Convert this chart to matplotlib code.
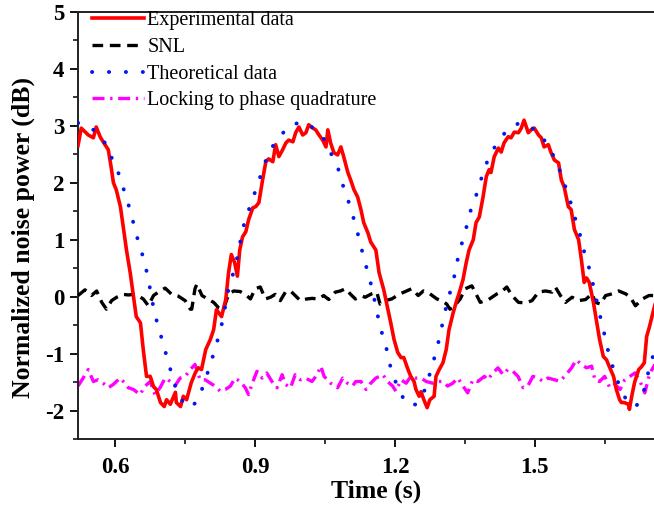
import matplotlib
matplotlib.use("Agg")
import matplotlib.pyplot as plt
from matplotlib.ticker import MultipleLocator

plt.rcParams['font.family'] = ['Liberation Serif', 'DejaVu Serif']

# Experimental data (red)
exp_t = [0.520, 0.527, 0.542, 0.553, 0.559, 0.568, 0.574, 0.585, 0.591, 0.596,
         0.602, 0.611, 0.617, 0.624, 0.632, 0.639, 0.645, 0.654, 0.660, 0.667,
         0.675, 0.682, 0.688, 0.697, 0.705, 0.710, 0.718, 0.729, 0.731, 0.740,
         0.746, 0.753, 0.763, 0.772, 0.778, 0.785, 0.794, 0.804, 0.811, 0.817,
         0.828, 0.837, 0.843, 0.849, 0.856, 0.862, 0.867, 0.873, 0.880, 0.886,
         0.895, 0.901, 0.908, 0.916, 0.923, 0.929, 0.938, 0.944, 0.951, 0.959,
         0.966, 0.972, 0.981, 0.987, 0.994, 1.002, 1.009, 1.015, 1.024, 1.030,
         1.037, 1.045, 1.052, 1.056, 1.062, 1.069, 1.077, 1.084, 1.090, 1.099,
         1.105, 1.112, 1.120, 1.127, 1.133, 1.142, 1.148, 1.159, 1.166, 1.176,
         1.185, 1.191, 1.198, 1.206, 1.213, 1.219, 1.228, 1.234, 1.241, 1.245,
         1.252, 1.256, 1.262, 1.269, 1.275, 1.284, 1.288, 1.295, 1.303, 1.310,
         1.316, 1.325, 1.331, 1.338, 1.346, 1.353, 1.359, 1.368, 1.374, 1.381,
         1.389, 1.396, 1.402, 1.406, 1.413, 1.422, 1.428, 1.434, 1.443, 1.449,
         1.456, 1.465, 1.471, 1.477, 1.486, 1.492, 1.499, 1.508, 1.514, 1.520,
         1.529, 1.535, 1.542, 1.551, 1.557, 1.563, 1.572, 1.578, 1.585, 1.594,
         1.600, 1.606, 1.611, 1.617, 1.626, 1.632, 1.639, 1.647, 1.654, 1.660,
         1.669, 1.675, 1.682, 1.686, 1.692, 1.701, 1.703, 1.708, 1.714, 1.723,
         1.729, 1.735, 1.740, 1.746, 1.755, 1.759]
exp_v = [2.65, 2.96, 2.84, 2.79, 2.98, 2.80, 2.72, 2.58, 2.28, 2.00,
         1.88, 1.58, 1.23, 0.82, 0.42, 0.00, -0.35, -0.46, -0.93, -1.40,
         -1.40, -1.58, -1.63, -1.86, -1.93, -1.81, -1.89, -1.68, -1.86, -1.93,
         -1.75, -1.81, -1.51, -1.33, -1.25, -1.28, -0.93, -0.75, -0.58, -0.23,
         -0.35, -0.05, 0.42, 0.74, 0.60, 0.36, 0.82, 1.05, 1.14, 1.35,
         1.56, 1.58, 1.65, 2.05, 2.37, 2.42, 2.37, 2.67, 2.46, 2.58,
         2.70, 2.75, 2.72, 2.88, 2.98, 2.84, 2.88, 3.02, 2.96, 2.93,
         2.84, 2.75, 2.63, 2.93, 2.70, 2.53, 2.49, 2.63, 2.46, 2.18,
         2.05, 1.88, 1.75, 1.53, 1.30, 1.12, 0.96, 0.82, 0.42, 0.12,
         -0.23, -0.46, -0.75, -0.98, -1.07, -1.07, -1.28, -1.40, -1.49, -1.63,
         -1.75, -1.67, -1.81, -1.95, -1.81, -1.75, -1.40, -1.28, -1.16, -0.93,
         -0.58, -0.28, -0.11, 0.07, 0.30, 0.60, 0.82, 1.00, 1.30, 1.40,
         1.75, 2.11, 2.23, 2.18, 2.46, 2.61, 2.54, 2.70, 2.81, 2.79,
         2.89, 2.88, 2.96, 3.10, 2.88, 2.93, 2.96, 2.84, 2.79, 2.63,
         2.67, 2.53, 2.40, 2.35, 2.05, 1.93, 1.58, 1.53, 1.18, 1.00,
         0.65, 0.25, 0.33, 0.25, -0.11, -0.40, -0.75, -1.05, -1.11, -1.23,
         -1.40, -1.63, -1.81, -1.86, -1.86, -1.89, -1.98, -1.75, -1.51, -1.28,
         -1.23, -1.16, -0.70, -0.53, -0.23, -0.11]

# SNL (black dashed)
snl_t = [0.520, 0.535, 0.549, 0.560, 0.571, 0.581, 0.592, 0.603, 0.617, 0.628,
         0.639, 0.646, 0.660, 0.671, 0.682, 0.696, 0.707, 0.721, 0.735, 0.750,
         0.761, 0.764, 0.771, 0.775, 0.786, 0.796, 0.811, 0.821, 0.832, 0.843,
         0.854, 0.868, 0.879, 0.890, 0.900, 0.911, 0.922, 0.933, 0.943, 0.954,
         0.965, 0.976, 0.986, 0.997, 1.011, 1.022, 1.037, 1.047, 1.058, 1.072,
         1.083, 1.094, 1.105, 1.115, 1.130,
         1.136, 1.150, 1.161, 1.168, 1.179, 1.193, 1.211, 1.225, 1.236, 1.250,
         1.261, 1.275, 1.290, 1.300, 1.311, 1.318, 1.325, 1.340, 1.351, 1.365,
         1.372, 1.383, 1.401, 1.419, 1.429, 1.440, 1.451, 1.465, 1.480, 1.494,
         1.508, 1.523, 1.537, 1.544, 1.555, 1.566, 1.580, 1.594, 1.609, 1.623,
         1.630, 1.641, 1.652, 1.666, 1.680, 1.695, 1.705, 1.716, 1.731, 1.745,
         1.759]
snl_v = [0.02, 0.12, 0.02, 0.10, -0.10, -0.22, -0.07, -0.01, 0.04, 0.03,
         0.04, 0.03, -0.04, -0.16, 0.02, 0.10, 0.15, 0.04, 0.01, -0.07,
         -0.22, -0.22, 0.14, 0.22, 0.02, -0.03, -0.10, -0.19, -0.22, 0.04,
         0.10, 0.09, 0.04, -0.04, 0.14, 0.17, -0.04, -0.01, 0.04, -0.07,
         0.08, 0.10, 0.02, -0.07, -0.04, -0.03, -0.04, 0.02, -0.05, 0.08,
         0.10, 0.14, 0.04, -0.04, 0.01,
         -0.01, 0.05, 0.08, -0.13, -0.07, -0.04, 0.05, 0.10, 0.14, 0.02,
         0.10, 0.05, -0.04, -0.07, -0.13, -0.22, -0.19, -0.04, 0.14, 0.19,
         0.08, -0.10, -0.05, 0.05, 0.09, 0.17, 0.02, -0.10, -0.11, -0.07,
         0.08, 0.10, 0.08, 0.17, 0.02, -0.10, -0.01, -0.07, -0.05, 0.05,
         -0.10, -0.13, 0.02, 0.05, 0.10, 0.05, -0.01, -0.16, -0.04, 0.02,
         0.02]

# Theoretical data (blue dotted)
theo_t = [0.520, 0.525, 0.553, 0.578, 0.596, 0.611, 0.622, 0.634, 0.643, 0.654,
          0.665, 0.673, 0.680, 0.688, 0.699, 0.710, 0.720, 0.731, 0.748, 0.762,
          0.778, 0.791, 0.804, 0.815, 0.826, 0.834, 0.841, 0.852, 0.862, 0.869,
          0.877, 0.890, 0.903, 0.916, 0.929, 0.948, 0.976, 1.000, 1.013, 1.045,
          1.062, 1.080, 1.090, 1.103, 1.114, 1.125, 1.133, 1.144, 1.153, 1.161,
          1.170, 1.181, 1.189, 1.202, 1.217, 1.232, 1.245, 1.267, 1.277, 1.288,
          1.297, 1.305, 1.314, 1.325, 1.333, 1.342, 1.353, 1.363, 1.376, 1.387,
          1.400, 1.419, 1.441, 1.460, 1.477, 1.508, 1.529, 1.548, 1.561, 1.574,
          1.585, 1.596, 1.606, 1.617, 1.626, 1.634, 1.643, 1.652, 1.660, 1.673,
          1.686, 1.703, 1.717, 1.731, 1.740, 1.748, 1.761]
theo_v = [3.05, 3.05, 2.93, 2.70, 2.37, 2.09, 1.77, 1.47, 1.14, 0.86,
          0.53, 0.21, -0.11, -0.40, -0.72, -1.04, -1.33, -1.63, -1.89, -1.95,
          -1.81, -1.51, -1.19, -0.89, -0.58, -0.26, 0.07, 0.38, 0.70, 1.00,
          1.30, 1.61, 1.91, 2.23, 2.53, 2.77, 3.02, 3.06, 3.04, 2.81,
          2.53, 2.21, 1.91, 1.61, 1.30, 0.96, 0.68, 0.37, 0.07, -0.26,
          -0.58, -0.88, -1.19, -1.51, -1.77, -1.92, -1.89, -1.60, -1.28, -0.98,
          -0.67, -0.35, -0.04, 0.26, 0.60, 0.89, 1.21, 1.53, 1.82, 2.12,
          2.42, 2.70, 2.93, 3.03, 3.05, 2.89, 2.65, 2.35, 2.04, 1.74,
          1.42, 1.12, 0.79, 0.49, 0.18, -0.12, -0.44, -0.75, -1.05, -1.37,
          -1.67, -1.89, -1.93, -1.75, -1.46, -1.16, -0.90]

# Locking to phase quadrature (magenta dash-dot)
lock_t = [0.520, 0.531, 0.542, 0.553, 0.563, 0.574, 0.585, 0.596, 0.610, 0.621,
          0.628, 0.639, 0.653, 0.664, 0.675, 0.685, 0.696, 0.707, 0.718, 0.728,
          0.739, 0.750, 0.761, 0.771, 0.782, 0.793, 0.804, 0.814, 0.825, 0.836,
          0.847, 0.857, 0.868, 0.879, 0.886, 0.893, 0.904, 0.915, 0.925, 0.936,
          0.947, 0.958, 0.965, 0.976, 0.986, 0.997, 1.008, 1.022, 1.033,
          1.041, 1.048, 1.062, 1.077, 1.088, 1.098, 1.109, 1.116, 1.127, 1.138,
          1.148, 1.159, 1.174, 1.184, 1.195, 1.202, 1.213, 1.224, 1.234, 1.245,
          1.256, 1.267, 1.281, 1.292, 1.303, 1.313, 1.324, 1.335, 1.346, 1.356,
          1.367, 1.378, 1.392, 1.399, 1.410, 1.421, 1.432, 1.442, 1.453, 1.464,
          1.475, 1.485, 1.496, 1.507, 1.518, 1.528, 1.543, 1.553, 1.564, 1.579,
          1.589, 1.600, 1.611, 1.622, 1.629, 1.639, 1.650, 1.661, 1.672, 1.683,
          1.693, 1.704, 1.715, 1.726, 1.736, 1.747, 1.758]
lock_v = [-1.57, -1.43, -1.28, -1.49, -1.46, -1.52, -1.60, -1.54, -1.43, -1.52,
          -1.60, -1.63, -1.72, -1.57, -1.49, -1.72, -1.60, -1.43, -1.49, -1.57,
          -1.43, -1.40, -1.28, -1.19, -1.46, -1.46, -1.52, -1.57, -1.66, -1.63,
          -1.57, -1.43, -1.49, -1.60, -1.72, -1.54, -1.31, -1.43, -1.34, -1.49,
          -1.60, -1.37, -1.54, -1.60, -1.37, -1.46, -1.43, -1.49, -1.37,
          -1.22, -1.40, -1.52, -1.60, -1.43, -1.52, -1.57, -1.49, -1.49, -1.63,
          -1.52, -1.43, -1.37, -1.49, -1.57, -1.66, -1.46, -1.52, -1.40, -1.43,
          -1.43, -1.49, -1.52, -1.49, -1.49, -1.57, -1.52, -1.43, -1.57, -1.69,
          -1.46, -1.49, -1.40, -1.46, -1.34, -1.25, -1.37, -1.28, -1.31, -1.40,
          -1.60, -1.57, -1.40, -1.43, -1.49, -1.43, -1.46, -1.49, -1.40, -1.25,
          -1.11, -1.19, -1.25, -1.22, -1.46, -1.49, -1.40, -1.60, -1.54, -1.63,
          -1.46, -1.40, -1.34, -1.49, -1.69, -1.34, -1.19]

xlim = (0.52, 1.76)
ylim = (-2.5, 5)
xticks = [0.6, 0.9, 1.2, 1.5]
yticks = [-2, -1, 0, 1, 2, 3, 4, 5]

fig = plt.figure(figsize=(6.54, 5.09), dpi=100)
ax = fig.add_axes([78/654, 70/509, 1.0 - 78/654 + 0.003, (439-12)/509])

ax.plot(exp_t, exp_v, color='#ff0000', lw=2.6, label='Experimental data', zorder=4)
ax.plot(snl_t, snl_v, color='black', lw=2.4, linestyle=(0, (3.2, 2.0)), label='SNL', zorder=3)
ax.plot(theo_t, theo_v, color='#0018f0', lw=2.8, linestyle=(0, (0.05, 4.3)),
        dash_capstyle='round', label='Theoretical data', zorder=5)
ax.plot(lock_t, lock_v, color='#ff00ff', lw=2.4, linestyle=(0, (3.6, 1.7, 0.7, 1.7)),
        label='Locking to phase quadrature', zorder=2)

ax.set_xlim(*xlim)
ax.set_ylim(*ylim)
ax.set_xticks(xticks)
ax.set_yticks(yticks)
ax.xaxis.set_minor_locator(MultipleLocator(0.15))
ax.yaxis.set_minor_locator(MultipleLocator(0.5))
ax.tick_params(which='major', direction='out', length=6, width=1.3, labelsize=16.5, pad=4)
ax.tick_params(which='minor', direction='out', length=3.5, width=1.1)
ax.tick_params(axis='x', which='both', top=False, pad=7)
ax.tick_params(axis='y', which='both', right=False)
ax.set_xticklabels(['0.6', '0.9', '1.2', '1.5'], fontweight='bold')
ax.set_yticklabels([str(v) for v in yticks], fontweight='bold')
for s in ['left', 'bottom', 'top']:
    ax.spines[s].set_linewidth(1.4)
    ax.spines[s].set_color('#222222')
ax.spines['right'].set_visible(False)

ax.set_xlabel('Time (s)', fontsize=18.5, fontweight='bold')
ax.xaxis.set_label_coords(0.515, -0.094)
ax.set_ylabel('Normalized noise power (dB)', fontsize=18.5, fontweight='bold')
ax.yaxis.set_label_coords(-0.074, 0.473)

leg = ax.legend(loc='upper left', bbox_to_anchor=(0.0, 1.035), frameon=False,
                fontsize=14.5, handlelength=2.6, handletextpad=0.15,
                labelspacing=0.38, borderaxespad=0.3)

fig.savefig('out.png', dpi=100)
